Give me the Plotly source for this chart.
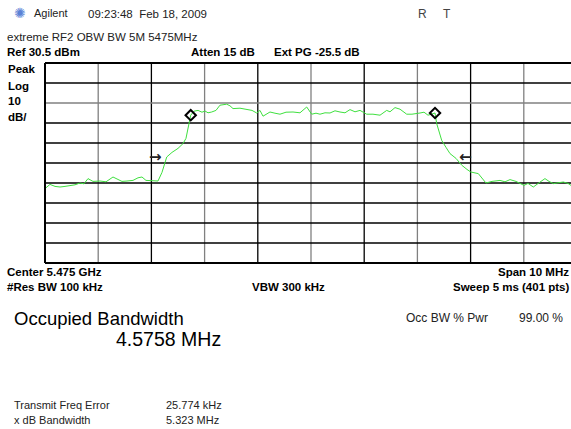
import plotly.graph_objects as go

# Trace (frequency offset from center in MHz, level in dBm)
freq_mhz = [-5.000, -4.906, -4.812, -4.718, -4.624, -4.530, -4.436, -4.342, -4.267, -4.192,
            -4.098, -3.966, -3.853, -3.722, -3.628, -3.553, -3.459, -3.346, -3.252, -3.177,
            -3.102, -2.994, -2.876, -2.801, -2.712, -2.613, -2.500, -2.406, -2.350, -2.261,
            -2.199, -2.124, -2.049, -1.992, -1.936, -1.867, -1.786, -1.711, -1.585, -1.523,
            -1.466, -1.335, -1.209, -1.109, -1.021, -0.959, -0.902, -0.771, -0.677, -0.583,
            -0.470, -0.338, -0.207, -0.081, 0.013, 0.094, 0.169, 0.263, 0.357, 0.451,
            0.545, 0.639, 0.733, 0.827, 0.921, 1.047, 1.165, 1.297, 1.423, 1.485,
            1.579, 1.673, 1.799, 1.898, 2.049, 2.124, 2.199, 2.331, 2.363, 2.457,
            2.538, 2.613, 2.726, 2.833, 2.932, 3.002, 3.145, 3.289, 3.402, 3.553,
            3.647, 3.741, 3.853, 4.004, 4.079, 4.179, 4.286, 4.398, 4.474, 4.555,
            4.643, 4.743, 4.831, 4.887, 5.000]
level_dbm = [-32.3, -30.2, -31.2, -31.5, -31.2, -30.7, -30.4, -29.5, -29.9, -27.3,
             -28.7, -28.5, -28.9, -26.5, -27.7, -28.7, -28.5, -28.2, -26.9, -26.5,
             -28.2, -28.5, -28.5, -24.2, -16.5, -14.2, -12.2, -9.8, -7.2, 4.4,
             6.4, 6.8, 5.9, 6.5, 5.6, 6.0, 6.8, 9.4, 9.9, 9.1,
             7.7, 7.9, 7.2, 6.8, 5.5, 6.8, 3.9, 6.0, 5.4, 4.9,
             5.9, 6.0, 5.6, 8.5, 4.9, 5.4, 4.9, 5.6, 5.5, 6.6,
             6.0, 5.6, 7.2, 6.1, 6.8, 4.9, 4.9, 4.4, 6.8, 6.1,
             8.2, 7.4, 4.9, 4.9, 5.5, 5.9, 4.4, 5.5, 0.2, -8.2,
             -11.7, -14.8, -17.2, -20.6, -22.7, -24.0, -24.8, -29.5, -28.7, -28.2,
             -28.9, -27.8, -28.7, -30.7, -29.7, -31.5, -29.4, -27.3, -28.7, -29.8,
             -29.4, -29.0, -29.7, -30.7, -30.0]

# OBW markers
marker_freq = [-2.261, 2.331]
marker_level = [4.4, 5.5]

# x dB bandwidth arrows
arrow_freq = [-2.93, 2.90]
arrow_level = [-16.5, -16.5]
arrow_text = ["→", "←"]

# Graticule
ref_level = 30.5
db_per_div = 10
n_ydiv = 10
x_grid = [-4, -3, -2, -1, 0, 1, 2, 3, 4]
x_grid_color = ["#808080", "#000000", "#808080", "#000000", "#808080",
                "#000000", "#808080", "#000000", "#808080"]
y_grid = [ref_level - db_per_div * i for i in range(1, n_ydiv)]
y_grid_color = ["#000000", "#808080", "#000000", "#000000", "#000000",
                "#000000", "#000000", "#000000", "#000000"]

W, H = 571, 429
L, T, B = 45, 63, 263
px_per_div = 53.2
x_min = -5
x_max = x_min + (W - L) / px_per_div
y_min = ref_level - db_per_div * n_ydiv

fig = go.Figure()
fig.add_trace(go.Scatter(x=freq_mhz, y=level_dbm, mode="lines",
                         line=dict(color="#3fe03f", width=1), hoverinfo="skip",
                         showlegend=False))
fig.add_trace(go.Scatter(x=marker_freq, y=marker_level, mode="markers",
                         marker=dict(symbol="diamond-open", size=8, color="black",
                                     line=dict(width=2, color="black")),
                         showlegend=False))

shapes = []
for xv, c in zip(x_grid, x_grid_color):
    shapes.append(dict(type="line", xref="x", yref="paper", x0=xv, x1=xv, y0=0, y1=1,
                       line=dict(color=c, width=1.3), layer="below"))
for yv, c in zip(y_grid, y_grid_color):
    shapes.append(dict(type="line", xref="paper", yref="y", x0=0, x1=1, y0=yv, y1=yv,
                       line=dict(color=c, width=1.3), layer="below"))
shapes.append(dict(type="line", xref="paper", yref="paper", x0=0, x1=1, y0=1, y1=1,
                   line=dict(color="black", width=2)))
shapes.append(dict(type="line", xref="paper", yref="paper", x0=0, x1=1, y0=0, y1=0,
                   line=dict(color="black", width=2)))
shapes.append(dict(type="line", xref="paper", yref="paper", x0=0, x1=0, y0=0, y1=1,
                   line=dict(color="black", width=2)))

FONT = "Liberation Sans, Arial, sans-serif"
ann = []


def txt(x, y, s, size=11, bold=False, color="black", xanchor="left"):
    if bold:
        s = "<b>" + s + "</b>"
    ann.append(dict(xref="paper", yref="paper", x=(x - L) / (W - L), y=(B - y) / (B - T),
                    text=s, showarrow=False, xanchor=xanchor, yanchor="middle",
                    font=dict(family=FONT, size=size, color=color)))


txt(12, 13, "✺", size=14, color="#5b82d6")
txt(32, 13, "Agilent", size=11, color="#222")
txt(86, 14, "09:23:48  Feb 18, 2009", size=11.5, color="#222")
txt(416, 14, "R", size=12, color="#444")
txt(441, 14, "T", size=12, color="#444")
txt(5, 37, "extreme RF2 OBW BW 5M 5475MHz", size=11.5, color="#222")
txt(5, 52, "Ref 30.5 dBm", size=11.5, bold=True)
txt(189, 52, "Atten 15 dB", size=11.5, bold=True)
txt(272, 52, "Ext PG -25.5 dB", size=11.5, bold=True)
txt(6, 69, "Peak", size=11.5, bold=True)
txt(6, 86, "Log", size=11.5, bold=True)
txt(6, 101, "10", size=11.5, bold=True)
txt(6, 117, "dB/", size=11.5, bold=True)
txt(5, 272, "Center 5.475 GHz", size=11.5, bold=True)
txt(571, 272, "Span 10 MHz", size=11.5, bold=True, xanchor="right")
txt(5, 287, "#Res BW 100 kHz", size=11.5, bold=True)
txt(250, 287, "VBW 300 kHz", size=11.5, bold=True)
txt(571, 287, "Sweep 5 ms (401 pts)", size=11.5, bold=True, xanchor="right")
txt(12, 318, "Occupied Bandwidth", size=18.5)
txt(114, 339, "4.5758 MHz", size=19.5)
txt(404, 318, "Occ BW % Pwr", size=12, color="#222")
txt(517, 318, "99.00 %", size=12, color="#222")
txt(12, 405, "Transmit Freq Error", size=11, color="#222")
txt(12, 420, "x dB Bandwidth", size=11, color="#222")
txt(164, 405, "25.774 kHz", size=11, color="#222")
txt(164, 420, "5.323 MHz", size=11, color="#222")

for xf, yl, t in zip(arrow_freq, arrow_level, arrow_text):
    ann.append(dict(xref="x", yref="y", x=xf, y=yl, text="<b>" + t + "</b>", showarrow=False,
                    font=dict(family="DejaVu Sans", size=15, color="#222")))

fig.update_layout(
    width=W, height=H,
    margin=dict(l=L, r=0, t=T, b=H - B, pad=0),
    paper_bgcolor="white", plot_bgcolor="white",
    xaxis=dict(range=[x_min, x_max], showgrid=False, zeroline=False,
               showticklabels=False, ticks="", showline=False, fixedrange=True),
    yaxis=dict(range=[y_min, ref_level], showgrid=False, zeroline=False,
               showticklabels=False, ticks="", showline=False, fixedrange=True),
    shapes=shapes, annotations=ann, showlegend=False,
)
fig.write_html("out.html", config={"displayModeBar": False},
               post_script="document.body.style.margin='0px';document.body.style.overflow='hidden';")
